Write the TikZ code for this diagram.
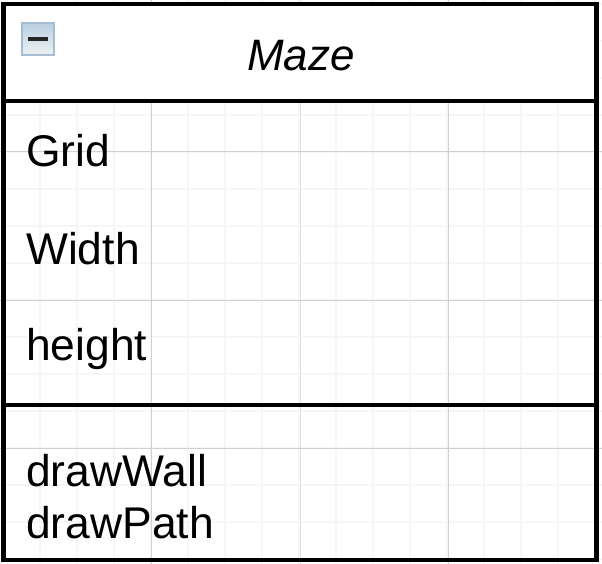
\documentclass[tikz,border=0pt]{standalone}
\usepackage{fontspec}
\setmainfont{Liberation Sans}
\usetikzlibrary{positioning}
\definecolor{gridminor}{RGB}{246,246,246}
\definecolor{gridmajor}{RGB}{208,208,208}
\definecolor{gridmiddle}{RGB}{224,224,224}
\definecolor{iconedge}{RGB}{165,188,210}
\definecolor{icontop}{RGB}{185,208,226}
\definecolor{iconbottom}{RGB}{238,241,241}
\tikzset{
	classbox/.style={draw=black,line width=4.4pt,inner sep=0,outer sep=0,minimum width=593pt},
	classtext/.style={font=\fontsize{44.4}{44.4}\selectfont,inner sep=0,anchor=base west},
	minorline/.style={gridminor,line width=1.2pt},
	majorline/.style={gridmajor,line width=1pt}
}

\begin{document}
\begin{tikzpicture}[x=1pt,y=-1pt]
		\useasboundingbox (0,0) rectangle (602,564);

		% background grid
		\foreach \a in {3,40,...,596} {
			\draw[minorline] (\a,0) -- (\a,564);
		}
		\foreach \a in {4,41,78,115,...,560} {
			\draw[minorline] (0,\a) -- (602,\a);
		}
		\foreach \a in {151,448} {
			\draw[majorline] (\a,0) -- (\a,564);
		}
		\draw[majorline,gridmiddle] (300,0) -- (300,564);
		\foreach \a in {152,300,448} {
			\draw[majorline] (0,\a) -- (602,\a);
		}

		\node[classbox,fill=white,minimum height=97pt,anchor=north west] (title) at (3.5,4) {};
		\node[classbox,minimum height=304pt,below=0pt of title] (fields) {};
		\node[classbox,minimum height=155pt,below=0pt of fields] (methods) {};

		\node[minimum size=32pt,inner sep=0,draw=iconedge,line width=1.5pt,top color=icontop,bottom color=iconbottom] (icon) at (38,39) {};
		\node[fill=black!85,minimum width=20pt,minimum height=3.5pt,inner sep=0] (minus) at (icon.center) {};

		\node[classtext,anchor=base,font=\fontsize{44}{44}\selectfont\itshape] (name) at (301,71) {Maze};

		\node[classtext] (grid) at (26,167) {Grid};
		\node[classtext] (width) at (26,264) {Width};
		\node[classtext] (height) at (26,360) {height};
		\node[classtext] (drawwall) at (26,486) {drawWall};
		\node[classtext] (drawpath) at (26,538) {drawPath};
	\end{tikzpicture}
\end{document}
